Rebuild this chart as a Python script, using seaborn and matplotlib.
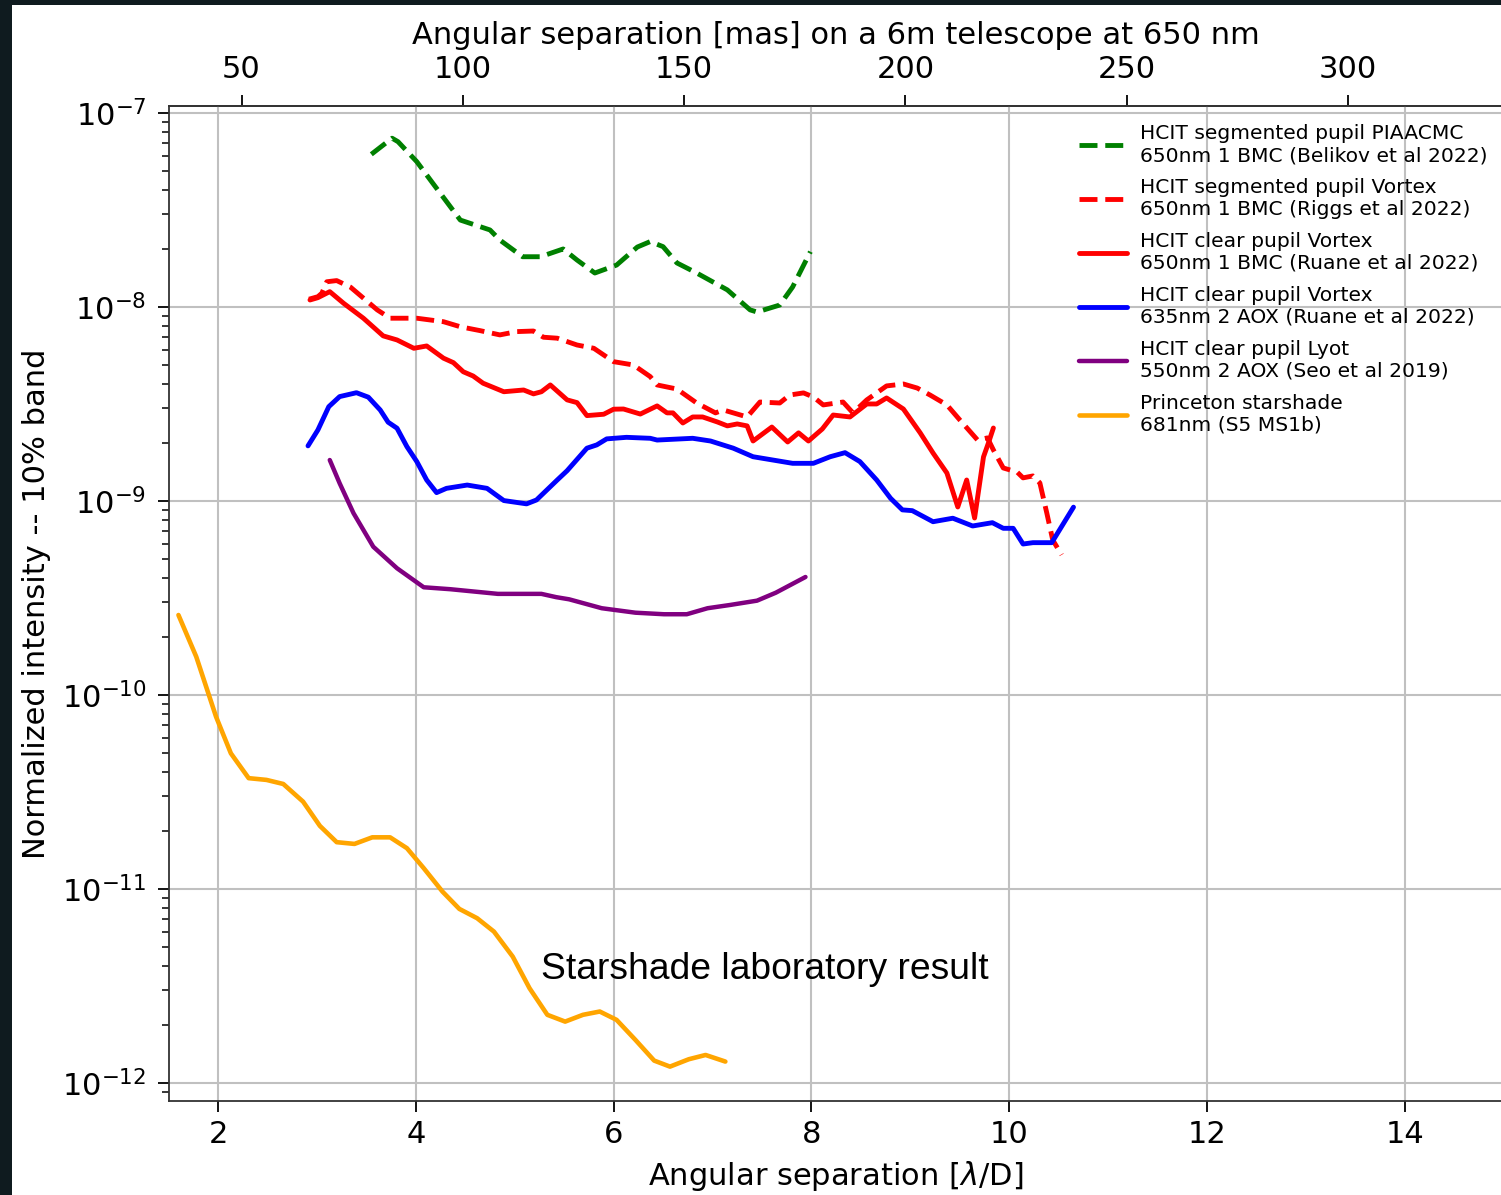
import matplotlib
matplotlib.use("Agg")
import matplotlib.pyplot as plt
from matplotlib.patches import Rectangle
import seaborn as sns
import numpy as np

# === data (x in lambda/D, y as log10 of normalized intensity) ===

piaa_x = [3.55, 3.76, 3.82, 4.01, 4.17, 4.45, 4.75, 4.85, 5.08, 5.26, 5.49, 5.63, 5.81,
          6.03, 6.24, 6.37, 6.50, 6.64, 6.84, 7.15, 7.38, 7.45, 7.68, 7.81, 7.99]
piaa_logy = [-7.213, -7.130, -7.148, -7.251, -7.361, -7.552, -7.603, -7.655, -7.741,
             -7.741, -7.701, -7.758, -7.825, -7.784, -7.691, -7.663, -7.689, -7.773,
             -7.825, -7.912, -8.015, -8.026, -7.990, -7.897, -7.715]

seg_vortex_x = [2.92, 3.01, 3.05, 3.10, 3.20, 3.34, 3.61, 3.74, 4.01, 4.28, 4.45, 4.65,
                4.85, 5.02, 5.19, 5.29, 5.43, 5.63, 5.80, 6.00, 6.20, 6.37, 6.44, 6.64,
                6.84, 7.03, 7.11, 7.35, 7.48, 7.68, 7.78, 7.92, 8.02, 8.12, 8.32, 8.42,
                8.56, 8.76, 8.93, 9.07, 9.20, 9.37, 9.50, 9.68, 9.78, 9.84, 9.94, 10.08,
                10.14, 10.24, 10.31, 10.38, 10.44, 10.53]
seg_vortex_logy = [-7.960, -7.947, -7.929, -7.870, -7.864, -7.898, -8.015, -8.058, -8.058,
                   -8.076, -8.102, -8.122, -8.144, -8.127, -8.124, -8.156, -8.161, -8.196,
                   -8.213, -8.282, -8.299, -8.359, -8.402, -8.423, -8.495, -8.546, -8.531,
                   -8.567, -8.490, -8.495, -8.454, -8.443, -8.464, -8.505, -8.490, -8.546,
                   -8.479, -8.407, -8.397, -8.418, -8.454, -8.505, -8.582, -8.686, -8.675,
                   -8.737, -8.830, -8.851, -8.881, -8.871, -8.907, -9.062, -9.201, -9.278]

clear_vortex_x = [2.93, 3.01, 3.13, 3.27, 3.47, 3.67, 3.81, 3.98, 4.11, 4.28, 4.38, 4.48,
                  4.58, 4.68, 4.89, 5.09, 5.19, 5.27, 5.36, 5.53, 5.63, 5.73, 5.90, 6.00,
                  6.10, 6.27, 6.44, 6.54, 6.60, 6.70, 6.80, 6.90, 7.05, 7.15, 7.25, 7.35,
                  7.41, 7.60, 7.76, 7.87, 7.97, 8.11, 8.22, 8.39, 8.56, 8.66, 8.76, 8.93,
                  9.10, 9.23, 9.37, 9.48, 9.57, 9.65, 9.74, 9.79, 9.84]
clear_vortex_logy = [-7.964, -7.952, -7.921, -7.981, -8.058, -8.149, -8.170, -8.213, -8.201,
                     -8.264, -8.287, -8.334, -8.356, -8.393, -8.437, -8.428, -8.448, -8.437,
                     -8.402, -8.479, -8.493, -8.560, -8.553, -8.527, -8.526, -8.552, -8.510,
                     -8.546, -8.546, -8.598, -8.567, -8.567, -8.593, -8.613, -8.603, -8.613,
                     -8.691, -8.619, -8.696, -8.649, -8.691, -8.629, -8.557, -8.567, -8.500,
                     -8.500, -8.469, -8.526, -8.649, -8.753, -8.856, -9.031, -8.892, -9.088,
                     -8.773, -8.701, -8.624]

aox_vortex_x = [2.91, 3.01, 3.12, 3.23, 3.40, 3.52, 3.64, 3.72, 3.81, 3.91, 4.01, 4.11,
                4.21, 4.31, 4.52, 4.72, 4.89, 5.12, 5.22, 5.43, 5.53, 5.73, 5.83, 5.93,
                6.13, 6.37, 6.44, 6.80, 6.98, 7.21, 7.41, 7.81, 8.02, 8.19, 8.34, 8.49,
                8.66, 8.80, 8.92, 9.02, 9.23, 9.43, 9.63, 9.83, 9.94, 10.04, 10.14, 10.24,
                10.43, 10.65]
aox_vortex_logy = [-8.716, -8.634, -8.514, -8.462, -8.442, -8.465, -8.531, -8.594, -8.625,
                   -8.720, -8.797, -8.892, -8.957, -8.935, -8.918, -8.935, -8.998, -9.015,
                   -8.995, -8.892, -8.844, -8.728, -8.711, -8.680, -8.672, -8.677, -8.686,
                   -8.677, -8.691, -8.728, -8.772, -8.806, -8.806, -8.772, -8.751, -8.797,
                   -8.892, -8.986, -9.046, -9.050, -9.107, -9.089, -9.129, -9.112, -9.141,
                   -9.141, -9.222, -9.215, -9.215, -9.032]

lyot_x = [3.13, 3.23, 3.37, 3.57, 3.81, 4.08, 4.35, 4.83, 5.27, 5.42, 5.55, 5.88, 6.22,
          6.51, 6.74, 6.95, 7.18, 7.45, 7.64, 7.94]
lyot_logy = [-8.789, -8.909, -9.063, -9.236, -9.347, -9.445, -9.455, -9.479, -9.479, -9.496,
             -9.507, -9.553, -9.576, -9.584, -9.584, -9.553, -9.536, -9.514, -9.473, -9.392]

starshade_x = [1.60, 1.78, 1.98, 2.13, 2.31, 2.49, 2.66, 2.86, 3.03, 3.20, 3.38, 3.56,
               3.74, 3.91, 4.08, 4.27, 4.44, 4.62, 4.79, 4.98, 5.15, 5.33, 5.51, 5.69,
               5.86, 6.03, 6.22, 6.41, 6.57, 6.76, 6.93, 7.13]
starshade_logy = [-9.588, -9.803, -10.112, -10.301, -10.429, -10.438, -10.459, -10.550,
                  -10.675, -10.759, -10.768, -10.734, -10.734, -10.790, -10.893, -11.014,
                  -11.103, -11.151, -11.220, -11.349, -11.512, -11.649, -11.684, -11.649,
                  -11.632, -11.675, -11.778, -11.885, -11.916, -11.878, -11.856, -11.890]

labels = [
    "HCIT segmented pupil PIAACMC\n650nm 1 BMC (Belikov et al 2022)",
    "HCIT segmented pupil Vortex\n650nm 1 BMC (Riggs et al 2022)",
    "HCIT clear pupil Vortex\n650nm 1 BMC (Ruane et al 2022)",
    "HCIT clear pupil Vortex\n635nm 2 AOX (Ruane et al 2022)",
    "HCIT clear pupil Lyot\n550nm 2 AOX (Seo et al 2019)",
    "Princeton starshade\n681nm (S5 MS1b)",
]

mas_ticks = [50, 100, 150, 200, 250, 300]
# lambda/D -> milliarcsec for 650 nm on a 6 m aperture
MAS_PER_LD = 0.65e-6 / 6.0 * 206264806.2

# === style ===
sns.set_theme(style="ticks")
plt.rcParams["font.family"] = ["DejaVu Sans"]
plt.rcParams.update({
    "text.color": "black", "axes.labelcolor": "black",
    "axes.edgecolor": "#333333",
    "axes.linewidth": 1.3,
    "xtick.major.size": 8, "ytick.major.size": 8,
    "ytick.minor.size": 5, "xtick.minor.size": 0,
    "xtick.major.width": 1.3, "ytick.major.width": 1.3, "ytick.minor.width": 1.1,
    "xtick.color": "black", "ytick.color": "black",
    "xtick.labelcolor": "black", "ytick.labelcolor": "black",
})

fig = plt.figure(figsize=(15.01, 11.95), dpi=100, facecolor="#0f1b1f")
fig.add_artist(Rectangle((12 / 1501, 0), 1, (1195 - 5) / 1195,
                         transform=fig.transFigure, facecolor="white",
                         edgecolor="none", zorder=-10))
ax = fig.add_axes([0.1123, 0.0787, 0.8895, 0.8326])
ax.set_facecolor("white")

series = [
    (piaa_x, piaa_logy, "green", "--", 3.5),
    (seg_vortex_x, seg_vortex_logy, "red", "--", 3.5),
    (clear_vortex_x, clear_vortex_logy, "red", "-", 3.5),
    (aox_vortex_x, aox_vortex_logy, "blue", "-", 3.5),
    (lyot_x, lyot_logy, "purple", "-", 3.2),
    (starshade_x, starshade_logy, "orange", "-", 3.3),
]
for (xs, logys, col, ls, lw), lab in zip(series, labels):
    sns.lineplot(x=np.array(xs), y=10.0 ** np.array(logys), ax=ax, color=col,
                 linestyle=ls, linewidth=lw, label=lab, sort=False, estimator=None)

ax.set_yscale("log")
ax.set_xlim(1.5, 15)
ax.set_ylim(10 ** -12.093, 10 ** -6.964)
ax.set_xticks([2, 4, 6, 8, 10, 12, 14])
ax.grid(True, which="major", color="#c0c0c0", linewidth=1.5)
ax.tick_params(axis="both", which="major", labelsize=22, pad=6)
ax.tick_params(axis="y", which="major", pad=8)
ax.spines["right"].set_visible(False)

ax.set_xlabel(r"Angular separation [$\lambda$/D]", fontsize=22, labelpad=7)
ax.set_ylabel("Normalized intensity -- 10% band", fontsize=22, labelpad=8)

top = ax.secondary_xaxis("top", functions=(lambda v: v * MAS_PER_LD,
                                           lambda v: v / MAS_PER_LD))
top.set_xticks(mas_ticks)
top.tick_params(labelsize=22, pad=8, length=8, width=1.3)
top.minorticks_off()
top.set_xlabel("Angular separation [mas] on a 6m telescope at 650 nm",
               fontsize=22, labelpad=8)

ax.text(5.266, 10 ** -11.464, "Starshade laboratory result", fontsize=26.8,
        family=["Liberation Sans", "DejaVu Sans"], va="baseline", ha="left",
        color="black")

ax.legend(loc="upper left", bbox_to_anchor=(1079 / 1501, 1 - 124 / 1195),
          bbox_transform=fig.transFigure, frameon=False, fontsize=14.6,
          borderpad=0, borderaxespad=0, handlelength=2.37, handletextpad=0.64,
          labelspacing=0.64)

fig.savefig("out.png", dpi=100, facecolor=fig.get_facecolor())
